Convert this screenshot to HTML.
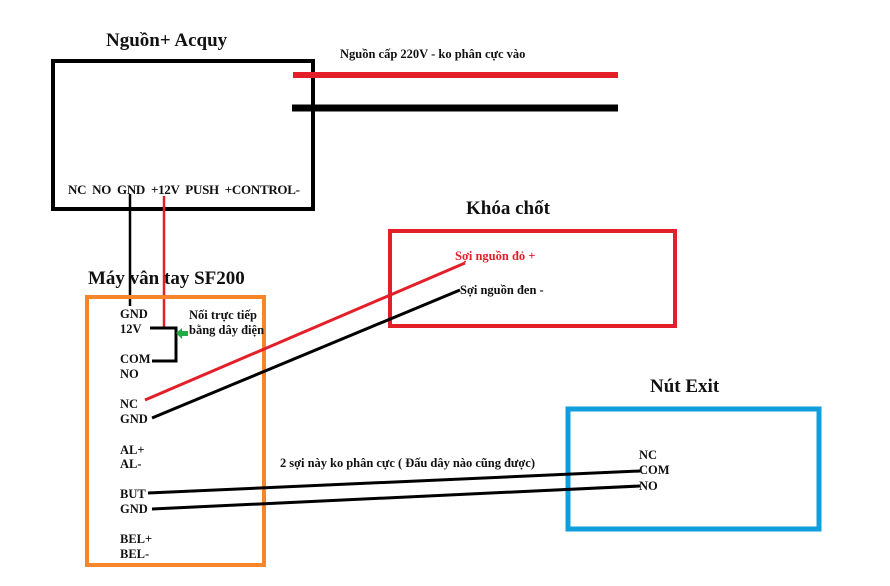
<!DOCTYPE html>
<html><head><meta charset="utf-8"><style>
html,body{margin:0;padding:0;background:#fff;}
svg{display:block;}
text{font-family:"Liberation Serif",serif;font-weight:bold;fill:#111;white-space:pre;}
</style></head><body>
<svg width="890" height="586" viewBox="0 0 890 586" xmlns="http://www.w3.org/2000/svg">
<rect width="890" height="586" fill="#fff"/>
<!-- Power box -->
<text x="106" y="46" font-size="19">Nguồn+ Acquy</text>
<rect x="53" y="61" width="260" height="148" fill="none" stroke="#000" stroke-width="4"/>
<text x="68" y="194" font-size="13" textLength="232" lengthAdjust="spacing">NC  NO  GND  +12V  PUSH  +CONTROL-</text>
<text x="340" y="58" font-size="12.5">Nguồn cấp 220V - ko phân cực vào</text>
<line x1="293" y1="75" x2="618" y2="75" stroke="#e3202a" stroke-width="6"/>
<line x1="292" y1="108" x2="618" y2="108" stroke="#000" stroke-width="7"/>
<!-- wires from box -->
<line x1="130" y1="194" x2="130" y2="306" stroke="#000" stroke-width="2.5"/>
<line x1="164" y1="196" x2="164" y2="328" stroke="#e3202a" stroke-width="2.5"/>
<polyline points="150,328 176,328 176,361 152,361" fill="none" stroke="#000" stroke-width="3"/>
<polygon points="176,333 182,328 182,331 188,331 188,336 182,336 182,339" fill="#22aa44"/>
<!-- SF200 -->
<text x="88" y="284" font-size="19">Máy vân tay SF200</text>
<rect x="87" y="297" width="177" height="268" fill="none" stroke="#f7852a" stroke-width="4"/>
<g font-size="12.5">
<text x="120" y="318">GND</text>
<text x="120" y="333">12V</text>
<text x="120" y="363">COM</text>
<text x="120" y="378">NO</text>
<text x="120" y="408">NC</text>
<text x="120" y="423">GND</text>
<text x="120" y="454">AL+</text>
<text x="120" y="468">AL-</text>
<text x="120" y="498">BUT</text>
<text x="120" y="513">GND</text>
<text x="120" y="543">BEL+</text>
<text x="120" y="558">BEL-</text>
<text x="189" y="319">Nối trực tiếp</text>
<text x="189" y="334">bằng dây điện</text>
</g>
<!-- Khoa chot -->
<text x="466" y="214" font-size="19">Khóa chốt</text>
<rect x="390" y="231" width="285" height="95" fill="none" stroke="#e3202a" stroke-width="4"/>
<text x="455" y="260" font-size="12.5" style="fill:#e3202a">Sợi nguồn đỏ +</text>
<text x="460" y="294" font-size="12.5">Sợi nguồn đen -</text>
<line x1="145" y1="400" x2="465" y2="263" stroke="#e3202a" stroke-width="3"/>
<line x1="152" y1="418" x2="460" y2="290" stroke="#000" stroke-width="3"/>
<!-- Nut Exit -->
<text x="650" y="392" font-size="19">Nút Exit</text>
<rect x="568" y="409" width="251" height="120" fill="none" stroke="#0e9fdc" stroke-width="5"/>
<g font-size="12.5">
<text x="639" y="459">NC</text>
<text x="639" y="474">COM</text>
<text x="639" y="490">NO</text>
</g>
<text x="280" y="467" font-size="12.5" textLength="255" lengthAdjust="spacing">2 sợi này ko phân cực ( Đấu dây nào cũng được)</text>
<line x1="148" y1="493" x2="640" y2="471" stroke="#000" stroke-width="3"/>
<line x1="152" y1="509" x2="640" y2="486" stroke="#000" stroke-width="3"/>
</svg>
</body></html>
